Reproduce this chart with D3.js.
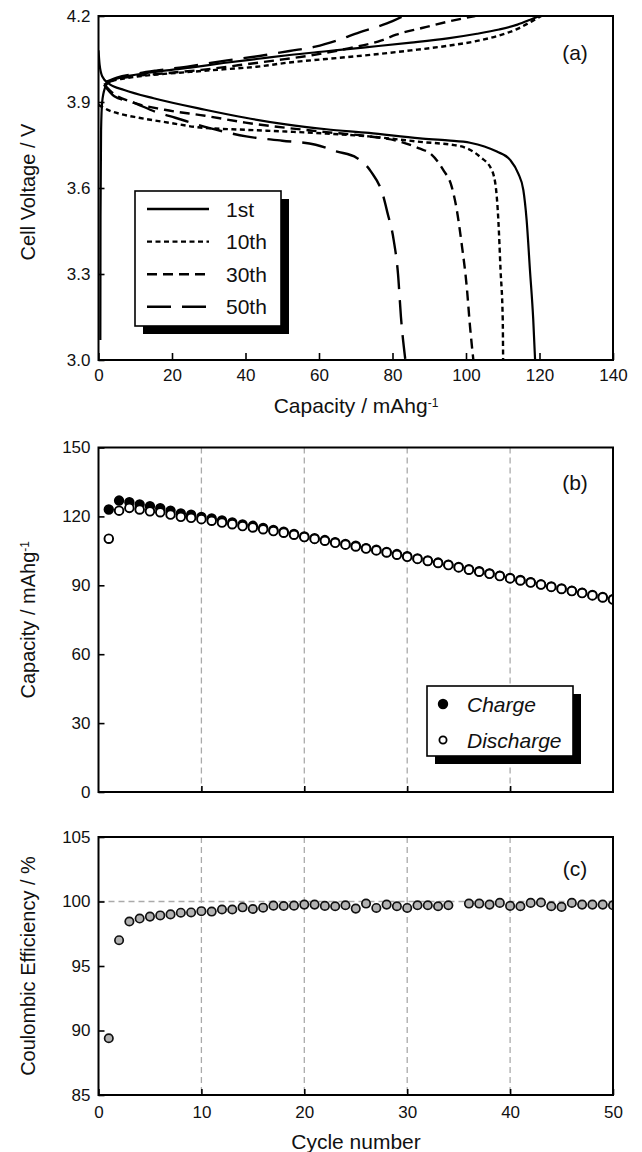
<!DOCTYPE html>
<html>
<head>
<meta charset="utf-8">
<script src="https://cdn.jsdelivr.net/npm/d3@7"></script>
<style>
  body { margin: 0; background: #fff; }
  text { font-family: "Liberation Sans", Arial, Helvetica, sans-serif; fill: #111; }
</style>
</head>
<body>
<div id="chart"></div>
<script>
// ---- data ----
const capTicks = [0, 20, 40, 60, 80, 100, 120, 140];
const voltTicks = [3.0, 3.3, 3.6, 3.9, 4.2];
const cycleTicks = [0, 10, 20, 30, 40, 50];
const capYTicks = [0, 30, 60, 90, 120, 150];
const ceTicks = [85, 90, 95, 100, 105];
const curveNames = ["1st", "10th", "30th", "50th"];

// charge curves [capacity, voltage]
const chg1st = [[0.5,3.07],[0.55,3.5],[0.7,3.8],[1,3.9],[1.8,3.95],[3,3.972],[6,3.985],[10,3.995],[16,4.006],[25,4.02],[34,4.036],[43,4.05],[52,4.064],[62,4.077],[72,4.09],[85,4.107],[95,4.122],[103,4.138],[109,4.153],[114,4.17],[117.5,4.187],[120,4.2]];
const chg10th = [[1.5,3.96],[3,3.97],[6,3.98],[10,3.988],[16,3.996],[25,4.005],[34,4.014],[43,4.023],[52,4.038],[62,4.05],[72,4.062],[85,4.08],[95,4.096],[103,4.113],[109,4.132],[114,4.155],[118,4.182],[120.5,4.2]];
const chg30th = [[2,3.965],[5,3.98],[10,3.99],[18,4.0],[28,4.012],[38,4.028],[48,4.045],[58,4.063],[68,4.087],[77,4.115],[81,4.135],[88,4.158],[95,4.18],[102.5,4.2]];
const chg50th = [[2,3.97],[5,3.985],[10,3.998],[16,4.01],[25,4.025],[35,4.045],[45,4.063],[52,4.078],[59,4.093],[65,4.115],[71,4.143],[76,4.163],[80,4.182],[83,4.2]];

// discharge curves [capacity, voltage]
const dis1st = [[0,4.08],[0.3,4.03],[1,3.99],[3,3.962],[7,3.942],[15,3.913],[29,3.873],[40,3.845],[51,3.822],[62,3.805],[73.6,3.792],[87.5,3.773],[95,3.766],[101.1,3.758],[105,3.745],[108.4,3.727],[112,3.698],[114.2,3.651],[115.6,3.593],[116.5,3.488],[117.4,3.314],[118.3,3.14],[118.8,3.0]];
const dis10th = [[0,3.89],[3,3.87],[6,3.858],[11,3.845],[20,3.826],[27,3.812],[40,3.803],[51,3.797],[62,3.79],[73.6,3.78],[87.5,3.761],[98.4,3.746],[103.8,3.709],[107,3.663],[108.2,3.593],[108.8,3.488],[109.4,3.314],[110,3.14],[110.1,3.0]];
const dis30th = [[2,3.955],[4,3.93],[9,3.9],[18,3.873],[29,3.852],[40,3.828],[51,3.81],[62,3.795],[73.6,3.78],[82,3.762],[87.5,3.737],[90.2,3.721],[93.8,3.663],[96.1,3.605],[97.5,3.523],[98.8,3.407],[100.2,3.256],[101.1,3.116],[102,3.0]];
const dis50th = [[1.5,3.96],[4.3,3.92],[9.1,3.9],[15.5,3.866],[20.9,3.845],[30,3.81],[40.2,3.78],[50,3.765],[59.1,3.751],[64.7,3.728],[70.3,3.705],[74.1,3.658],[77.5,3.571],[78.6,3.515],[80.3,3.42],[81.5,3.3],[82.3,3.15],[83.5,3.0]];

// capacity vs cycle (cycles 1..50)
const chargeCap = [123.0,126.9,126.2,125.2,124.4,123.6,122.5,121.3,120.7,119.8,119.1,118.2,117.4,116.5,115.9,115.0,114.1,113.3,112.4,111.3,110.5,109.7,108.8,108.0,107.2,106.2,105.5,104.5,103.6,102.7,101.7,100.8,99.9,99.0,98.0,97.0,96.1,95.2,94.2,93.2,92.3,91.4,90.4,89.5,88.6,87.6,86.8,85.8,84.9,84.0];
const dischargeCap = [110.3,122.5,123.7,123.0,122.2,121.8,120.8,119.8,119.4,118.8,118.1,117.3,116.6,115.8,115.2,114.4,113.6,112.9,112.0,111.0,110.2,109.4,108.5,107.7,106.9,106.0,105.2,104.3,103.3,102.4,101.5,100.6,99.7,98.8,97.8,96.8,95.9,95.0,94.0,93.0,92.1,91.2,90.3,89.3,88.4,87.5,86.6,85.6,84.7,83.8];
// coulombic efficiency (cycle 35 missing)
const efficiency = [89.4,97.0,98.45,98.68,98.83,98.92,99.0,99.13,99.15,99.25,99.22,99.38,99.38,99.55,99.42,99.52,99.68,99.65,99.68,99.76,99.76,99.66,99.63,99.71,99.45,99.84,99.5,99.76,99.63,99.5,99.71,99.71,99.63,99.71,null,99.84,99.84,99.76,99.89,99.66,99.63,99.89,99.92,99.63,99.58,99.89,99.76,99.76,99.76,99.71];

// ---- layout ----
const width = 642, height = 1152;
const left = 98.5, right = 613;
const pa = {top: 16, bottom: 360};
const pb = {top: 447.5, bottom: 792};
const pc = {top: 837, bottom: 1095};

const svg = d3.select("#chart").append("svg")
  .attr("width", width).attr("height", height)
  .attr("viewBox", [0, 0, width, height]);

const tickFont = "17px";
const titleFont = "21px";

function frame(p) {
  svg.append("rect")
    .attr("x", left).attr("y", p.top)
    .attr("width", right - left).attr("height", p.bottom - p.top)
    .attr("fill", "none").attr("stroke", "#000").attr("stroke-width", 2);
}

function styleAxis(g) {
  g.select(".domain").remove();
  g.selectAll(".tick line").attr("stroke", "#000").attr("stroke-width", 1.6);
  g.selectAll(".tick text").attr("font-size", tickFont).attr("fill", "#111");
}

// ================= panel (a) =================
const xa = d3.scaleLinear().domain([0, 140]).range([left, right]);
const ya = d3.scaleLinear().domain([3.0, 4.2]).range([pa.bottom, pa.top]);

svg.append("clipPath").attr("id", "clipA")
  .append("rect").attr("x", left).attr("y", pa.top).attr("width", right - left).attr("height", pa.bottom - pa.top);

const dashes = ["", "5,3.5", "10,6", "24,11"];
const line = d3.line().x(d => xa(d[0])).y(d => ya(d[1])).curve(d3.curveMonotoneX);

const curveGroups = [[chg1st, dis1st], [chg10th, dis10th], [chg30th, dis30th], [chg50th, dis50th]];
const gCurves = svg.append("g").attr("clip-path", "url(#clipA)");
curveGroups.forEach((pair, i) => {
  gCurves.selectAll(null)
    .data(pair)
    .join("path")
    .attr("d", line)
    .attr("fill", "none")
    .attr("stroke", "#000")
    .attr("stroke-width", i === 0 ? 2.2 : 2.4)
    .attr("stroke-dasharray", dashes[i]);
});

svg.append("g").attr("transform", `translate(0,${pa.bottom})`)
  .call(d3.axisBottom(xa).tickValues(capTicks).tickSize(-7).tickPadding(9).tickFormat(d3.format("d")))
  .call(styleAxis);
svg.append("g").attr("transform", `translate(${left},0)`)
  .call(d3.axisLeft(ya).tickValues(voltTicks).tickSize(-6).tickPadding(8).tickFormat(d3.format(".1f")))
  .call(styleAxis);
frame(pa);

svg.append("text").attr("x", 575).attr("y", 53).attr("dy", "0.35em")
  .attr("text-anchor", "middle").attr("font-size", titleFont).text("(a)");

svg.append("text")
  .attr("transform", `translate(35,${(pa.top + pa.bottom) / 2 + 4}) rotate(-90)`)
  .attr("text-anchor", "middle").attr("font-size", "20px").text("Cell Voltage / V");

const capTitle = svg.append("text").attr("x", 356).attr("y", 413)
  .attr("text-anchor", "middle").attr("font-size", titleFont);
capTitle.append("tspan").text("Capacity / mAhg");
capTitle.append("tspan").attr("dy", "-0.5em").attr("font-size", "12px").text("-1");

// legend (a)
const la = svg.append("g").attr("transform", "translate(135,191)");
la.append("rect").attr("x", 8).attr("y", 8).attr("width", 146).attr("height", 135).attr("fill", "#000");
la.append("rect").attr("x", 0).attr("y", 0).attr("width", 146).attr("height", 135)
  .attr("fill", "#fff").attr("stroke", "#000").attr("stroke-width", 1.6);
curveNames.forEach((name, i) => {
  const yy = 18 + i * 32.6;
  la.append("line").attr("x1", 12).attr("x2", 74).attr("y1", yy).attr("y2", yy)
    .attr("stroke", "#000").attr("stroke-width", 2.4).attr("stroke-dasharray", dashes[i]);
  la.append("text").attr("x", 91).attr("y", yy).attr("dy", "0.36em")
    .attr("font-size", titleFont).text(name);
});

// ================= panel (b) =================
const xc = d3.scaleLinear().domain([0, 50]).range([left, right]);
const yb = d3.scaleLinear().domain([0, 150]).range([pb.bottom, pb.top]);

function vgrid(p) {
  svg.append("g").selectAll("line")
    .data([10, 20, 30, 40])
    .join("line")
    .attr("x1", d => xc(d)).attr("x2", d => xc(d))
    .attr("y1", p.top).attr("y2", p.bottom)
    .attr("stroke", "#aaa").attr("stroke-width", 1.3).attr("stroke-dasharray", "6,4");
}
vgrid(pb);

svg.append("clipPath").attr("id", "clipB")
  .append("rect").attr("x", left).attr("y", pb.top).attr("width", right - left).attr("height", pb.bottom - pb.top);

const gB = svg.append("g").attr("clip-path", "url(#clipB)");
gB.selectAll(".chg")
  .data(chargeCap)
  .join("circle")
  .attr("class", "chg")
  .attr("cx", (d, i) => xc(i + 1)).attr("cy", d => yb(d)).attr("r", 4.3)
  .attr("fill", "#000").attr("stroke", "#000").attr("stroke-width", 1.8);
gB.selectAll(".dis")
  .data(dischargeCap)
  .join("circle")
  .attr("class", "dis")
  .attr("cx", (d, i) => xc(i + 1)).attr("cy", d => yb(d)).attr("r", 4.3)
  .attr("fill", "#fff").attr("stroke", "#000").attr("stroke-width", 1.9);

svg.append("g").attr("transform", `translate(0,${pb.bottom})`)
  .call(d3.axisBottom(xc).tickValues([10, 20, 30, 40]).tickSize(-6).tickFormat(""))
  .call(styleAxis);
svg.append("g").attr("transform", `translate(${left},0)`)
  .call(d3.axisLeft(yb).tickValues(capYTicks).tickSize(-6).tickPadding(8))
  .call(styleAxis);
frame(pb);

svg.append("text").attr("x", 575).attr("y", 483).attr("dy", "0.35em")
  .attr("text-anchor", "middle").attr("font-size", titleFont).text("(b)");

const capYTitle = svg.append("text")
  .attr("transform", `translate(35,${(pb.top + pb.bottom) / 2}) rotate(-90)`)
  .attr("text-anchor", "middle").attr("font-size", "20px");
capYTitle.append("tspan").text("Capacity / mAhg");
capYTitle.append("tspan").attr("dy", "-0.5em").attr("font-size", "12px").text("-1");

// legend (b)
const lb = svg.append("g").attr("transform", "translate(427,686)");
lb.append("rect").attr("x", 8).attr("y", 8).attr("width", 146).attr("height", 70).attr("fill", "#000");
lb.append("rect").attr("x", 0).attr("y", 0).attr("width", 146).attr("height", 70)
  .attr("fill", "#fff").attr("stroke", "#000").attr("stroke-width", 1.6);
lb.append("circle").attr("cx", 16).attr("cy", 18).attr("r", 4.3).attr("fill", "#000").attr("stroke", "#000").attr("stroke-width", 1.8);
lb.append("circle").attr("cx", 16).attr("cy", 54).attr("r", 3.6).attr("fill", "#fff").attr("stroke", "#000").attr("stroke-width", 1.8);
lb.append("text").attr("x", 40).attr("y", 18).attr("dy", "0.36em")
  .attr("font-size", titleFont).attr("font-style", "italic").text("Charge");
lb.append("text").attr("x", 40).attr("y", 54).attr("dy", "0.36em")
  .attr("font-size", titleFont).attr("font-style", "italic").text("Discharge");

// ================= panel (c) =================
const yc = d3.scaleLinear().domain([85, 105]).range([pc.bottom, pc.top]);

vgrid(pc);
svg.append("line")
  .attr("x1", left).attr("x2", right).attr("y1", yc(100)).attr("y2", yc(100))
  .attr("stroke", "#aaa").attr("stroke-width", 1.3).attr("stroke-dasharray", "6,4");

svg.append("clipPath").attr("id", "clipC")
  .append("rect").attr("x", left).attr("y", pc.top).attr("width", right - left).attr("height", pc.bottom - pc.top);

svg.append("g").attr("clip-path", "url(#clipC)")
  .selectAll("circle")
  .data(efficiency.map((v, i) => [i + 1, v]).filter(d => d[1] !== null))
  .join("circle")
  .attr("cx", d => xc(d[0])).attr("cy", d => yc(d[1])).attr("r", 4.2)
  .attr("fill", "#b3b3b3").attr("stroke", "#111").attr("stroke-width", 1.7);

svg.append("g").attr("transform", `translate(0,${pc.bottom})`)
  .call(d3.axisBottom(xc).tickValues(cycleTicks).tickSize(-6).tickPadding(11))
  .call(styleAxis);
svg.append("g").attr("transform", `translate(${left},0)`)
  .call(d3.axisLeft(yc).tickValues(ceTicks).tickSize(-6).tickPadding(8))
  .call(styleAxis);
frame(pc);

svg.append("text").attr("x", 575).attr("y", 869).attr("dy", "0.35em")
  .attr("text-anchor", "middle").attr("font-size", titleFont).text("(c)");

svg.append("text")
  .attr("transform", `translate(35,${(pc.top + pc.bottom) / 2}) rotate(-90)`)
  .attr("text-anchor", "middle").attr("font-size", "20px").text("Coulombic Efficiency / %");

svg.append("text").attr("x", 356).attr("y", 1149)
  .attr("text-anchor", "middle").attr("font-size", titleFont).text("Cycle number");
</script>
</body>
</html>
